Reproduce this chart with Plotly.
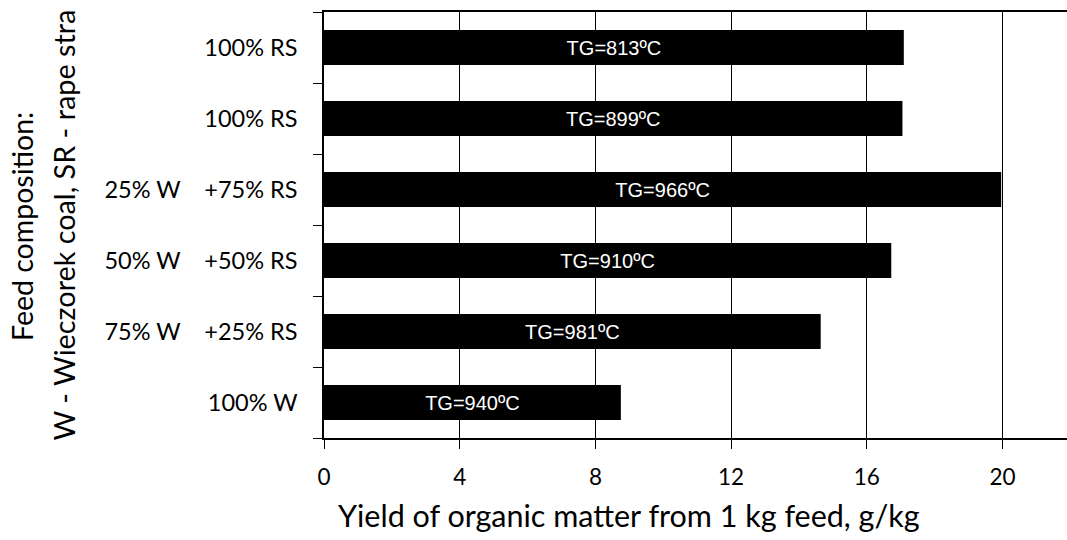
import plotly.graph_objects as go

NB = "\u00a0"
categories = [
    "100% W",
    "75% W" + NB * 4 + "+25% RS",
    "50% W" + NB * 4 + "+50% RS",
    "25% W" + NB * 4 + "+75% RS",
    "100% RS",
    "100% RS\u200b",
]
yields = [8.75, 14.64, 16.72, 19.96, 17.05, 17.09]
tg_labels = ["TG=940ºC", "TG=981ºC", "TG=910ºC", "TG=966ºC", "TG=899ºC", "TG=813ºC"]
x_ticks = [0, 4, 8, 12, 16, 20]

FONT = "Lato, 'Open Sans', sans-serif"
BAR_FONT = "'Liberation Sans', Arial, sans-serif"

fig = go.Figure()
fig.add_trace(go.Bar(
    y=categories,
    x=yields,
    orientation="h",
    marker=dict(color="black", line=dict(width=0)),
    text=tg_labels,
    textposition="inside",
    insidetextanchor="middle",
    constraintext="none",
    textangle=0,
    textfont=dict(family=BAR_FONT, size=20, color="white"),
    width=0.49,
    hoverinfo="x+y",
))

L, R, T, B = 324, 0, 12, 102
W, H = 1067, 540
plot_w = W - L - R
plot_h = H - T - B

fig.update_layout(
    width=W, height=H,
    margin=dict(l=L, r=R, t=T, b=B, pad=0),
    paper_bgcolor="white",
    plot_bgcolor="white",
    showlegend=False,
    font=dict(family=FONT, color="black"),
    xaxis=dict(
        range=[0, 21.9],
        tickvals=x_ticks,
        ticktext=[str(v) for v in x_ticks],
        ticks="outside", ticklen=9, tickwidth=1, tickcolor="black",
        showline=True, linecolor="black", linewidth=1.5, mirror=True,
        showgrid=True, gridcolor="black", gridwidth=1,
        zeroline=False,
        tickfont=dict(size=22.5, color="black"),
        ticklabelstandoff=9,
        layer="below traces",
    ),
    yaxis=dict(
        type="category",
        categoryorder="array", categoryarray=categories,
        tickson="boundaries",
        ticks="outside", ticklen=9, tickwidth=1, tickcolor="black",
        showline=True, linecolor="black", linewidth=1.5,
        showgrid=False, zeroline=False,
        tickfont=dict(size=23.5, color="black"),
        ticklabelstandoff=20,
        range=[-0.5, 5.5],
    ),
)

# x-axis title (centred as in the original figure)
fig.add_annotation(
    text="Yield of organic matter from 1 kg feed, g/kg",
    xref="paper", yref="paper",
    x=(629 - L) / plot_w, y=(H - B - 515) / plot_h,
    xanchor="center", yanchor="middle",
    showarrow=False, font=dict(size=30.5, color="black"),
)
fig.add_annotation(
    text="Feed composition:", textangle=-90,
    xref="paper", yref="paper",
    x=(22 - L) / plot_w, y=(H - B - 227) / plot_h,
    xanchor="center", yanchor="middle",
    showarrow=False, font=dict(size=28.5, color="black"),
)
fig.add_annotation(
    text="W - Wieczorek coal, SR - rape stra", textangle=-90,
    xref="paper", yref="paper",
    x=(63 - L) / plot_w, y=(H - B - 443) / plot_h,
    xanchor="center", yanchor="bottom",
    showarrow=False, font=dict(size=28.8, color="black"),
)

fig.write_html("out.html")
